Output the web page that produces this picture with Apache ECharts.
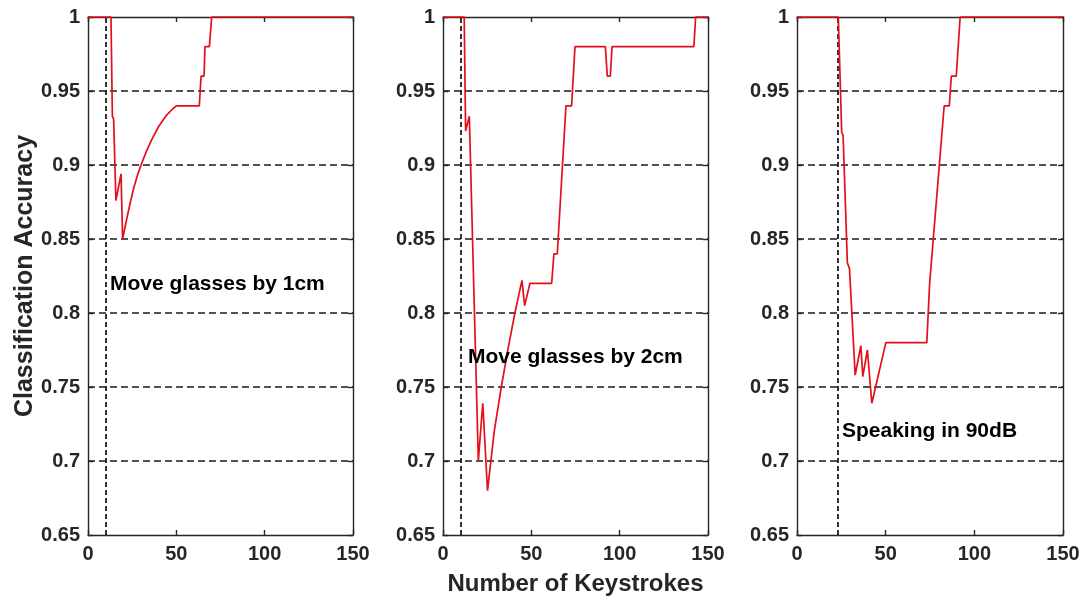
<!DOCTYPE html>
<html>
<head>
<meta charset="utf-8">
<script src="https://cdn.jsdelivr.net/npm/echarts@6/dist/echarts.min.js"></script>
<style>
html,body{margin:0;padding:0;background:#fff;}
#chart{width:1082px;height:597px;}
</style>
</head>
<body>
<div id="chart"></div>
<script>
// ---- data ----
const panelNames = ['Move glasses by 1cm', 'Move glasses by 2cm', 'Speaking in 90dB'];
const markerX = [10, 10, 23];

const x1 = [0, 13, 13.8, 14.5, 15.8, 18.7, 19.6, 22, 24, 26, 28, 30, 33, 36, 40, 44, 48, 50, 63, 64, 65.7, 66.2, 68.7, 70, 150];
const y1 = [1, 1, 0.933, 0.931, 0.876, 0.894, 0.85, 0.864, 0.875, 0.885, 0.893, 0.9, 0.909, 0.917, 0.926, 0.933, 0.938, 0.94, 0.94, 0.96, 0.96, 0.98, 0.98, 1, 1];

const x2 = [0, 12, 12.8, 14.9, 20, 22.5, 25.2, 29, 33, 37, 40.7, 44.7, 46.2, 49.2, 61.5, 62.8, 64.7, 69.6, 72.8, 74.7, 91.9, 93, 94.7, 95.7, 142, 143, 150];
const y2 = [1, 1, 0.923, 0.933, 0.7, 0.739, 0.68, 0.72, 0.75, 0.777, 0.8, 0.822, 0.805, 0.82, 0.82, 0.84, 0.84, 0.94, 0.94, 0.98, 0.98, 0.96, 0.96, 0.98, 0.98, 1, 1];

const x3 = [0, 23.3, 25.2, 26, 28.4, 29.6, 32.8, 36, 37.1, 39.7, 42.2, 50.1, 73.2, 74.8, 75.7, 78.9, 79.9, 83, 85.9, 87, 89.8, 92, 150];
const y3 = [1, 1, 0.922, 0.92, 0.834, 0.83, 0.758, 0.778, 0.757, 0.775, 0.739, 0.78, 0.78, 0.82, 0.821, 0.88, 0.88, 0.94, 0.94, 0.96, 0.96, 1, 1];

const xTicks = {min: 0, max: 150, interval: 50};
const yTicks = {min: 0.65, max: 1, interval: 0.05};

const xs = [x1, x2, x3];
const ys = [y1, y2, y3];

// ---- layout ----
const gridLefts = [88, 443, 797];
const gridWidths = [265, 265, 266];
const annot = [
  {left: 110, top: 274},
  {left: 468, top: 347},
  {left: 842, top: 421}
];

const axisColor = '#262626';
const tickFont = {fontFamily: 'Liberation Sans, Arial, sans-serif', fontWeight: 'bold', fontSize: 20, color: axisColor};

const grids = [], xAxes = [], yAxes = [], series = [], graphics = [];
for (let i = 0; i < 3; i++) {
  grids.push({left: gridLefts[i], top: 17, width: gridWidths[i], height: 518, containLabel: false, outerBoundsMode: 'none'});
  // bottom x axis
  xAxes.push({
    type: 'value', gridIndex: i, position: 'bottom',
    min: xTicks.min, max: xTicks.max, interval: xTicks.interval,
    axisLine: {show: true, onZero: false, lineStyle: {color: axisColor, width: 1.4}},
    axisTick: {show: true, inside: true, length: 5, lineStyle: {color: axisColor, width: 1.4}},
    axisLabel: Object.assign({margin: 9}, tickFont),
    splitLine: {show: false},
    name: i === 1 ? 'Number of Keystrokes' : '',
    nameLocation: 'middle', nameGap: 37,
    nameTextStyle: {fontFamily: 'Liberation Sans, Arial, sans-serif', fontWeight: 'bold', fontSize: 24, color: axisColor}
  });
  // top x axis (box)
  xAxes.push({
    type: 'value', gridIndex: i, position: 'top',
    min: xTicks.min, max: xTicks.max, interval: xTicks.interval,
    axisLine: {show: true, onZero: false, lineStyle: {color: axisColor, width: 1.4}},
    axisTick: {show: true, inside: true, length: 5, lineStyle: {color: axisColor, width: 1.4}},
    axisLabel: {show: false},
    splitLine: {show: false}
  });
  // left y axis
  yAxes.push({
    type: 'value', gridIndex: i, position: 'left',
    min: yTicks.min, max: yTicks.max, interval: yTicks.interval,
    axisLine: {show: true, onZero: false, lineStyle: {color: axisColor, width: 1.4}},
    axisTick: {show: true, inside: true, length: 5, lineStyle: {color: axisColor, width: 1.4}},
    axisLabel: Object.assign({margin: 8, formatter: v => String(+v.toFixed(2))}, tickFont),
    splitLine: {show: true, showMinLine: false, showMaxLine: false, lineStyle: {color: '#1a1a1a', width: 1.5, type: [7, 4]}},
    name: i === 0 ? 'Classification Accuracy' : '',
    nameLocation: 'middle', nameGap: 50,
    nameTextStyle: {fontFamily: 'Liberation Sans, Arial, sans-serif', fontWeight: 'bold', fontSize: 25, color: axisColor}
  });
  // right y axis (box)
  yAxes.push({
    type: 'value', gridIndex: i, position: 'right',
    min: yTicks.min, max: yTicks.max, interval: yTicks.interval,
    axisLine: {show: true, onZero: false, lineStyle: {color: axisColor, width: 1.4}},
    axisTick: {show: true, inside: true, length: 5, lineStyle: {color: axisColor, width: 1.4}},
    axisLabel: {show: false},
    splitLine: {show: false}
  });
  series.push({
    type: 'line',
    xAxisIndex: i * 2, yAxisIndex: i * 2,
    data: xs[i].map((x, k) => [x, ys[i][k]]),
    showSymbol: false, symbol: 'none',
    clip: false,
    z: 5,
    lineStyle: {color: '#e3101b', width: 1.7},
    markLine: {
      silent: true, symbol: 'none', label: {show: false},
      lineStyle: {color: '#111', width: 1.7, type: [5, 3]},
      data: [{xAxis: markerX[i]}]
    }
  });
  graphics.push({
    type: 'text', left: annot[i].left, top: annot[i].top, z: 10,
    style: {text: panelNames[i], fill: '#000', font: 'bold 21px "Liberation Sans", Arial, sans-serif'}
  });
}

const chart = echarts.init(document.getElementById('chart'), null, {renderer: 'canvas'});
chart.setOption({
  animation: false,
  backgroundColor: '#fff',
  grid: grids,
  xAxis: xAxes,
  yAxis: yAxes,
  series: series,
  graphic: graphics
});
</script>
</body>
</html>
